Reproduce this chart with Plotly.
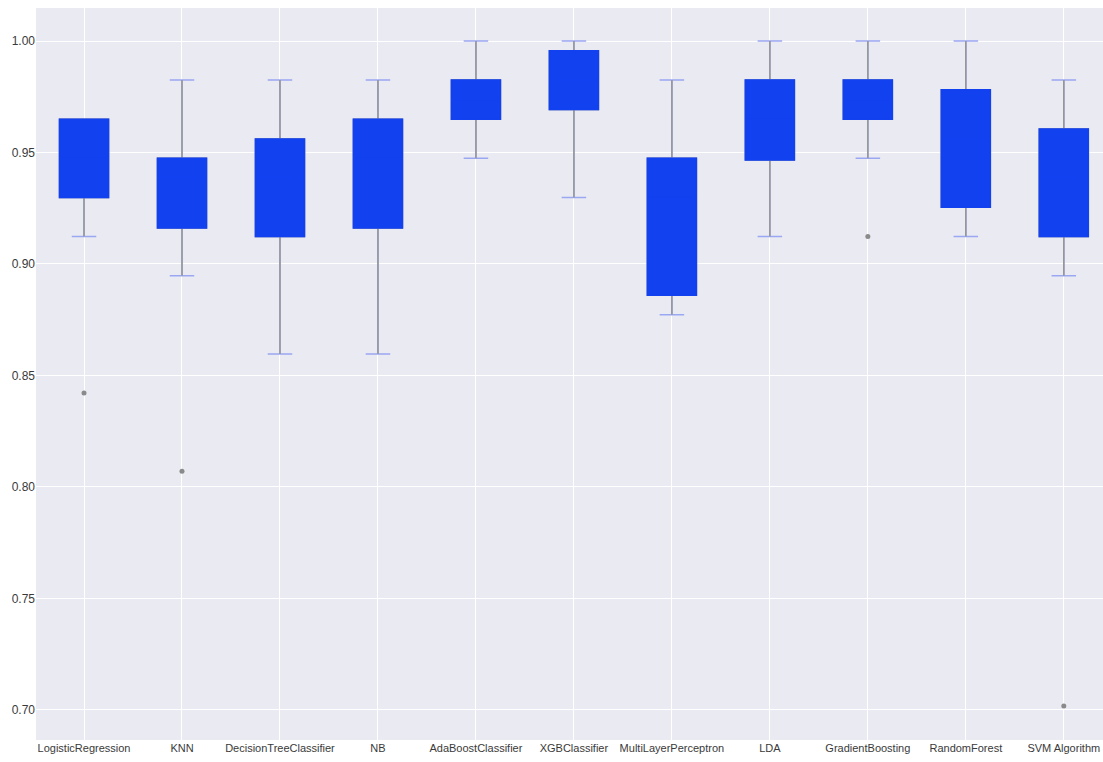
import plotly.graph_objects as go

models = ["LogisticRegression", "KNN", "DecisionTreeClassifier", "NB", "AdaBoostClassifier",
          "XGBClassifier", "MultiLayerPerceptron", "LDA", "GradientBoosting", "RandomForest",
          "SVM Algorithm"]
q1 = [0.9298, 0.9161, 0.9123, 0.9161, 0.9649, 0.9693, 0.8860, 0.9466, 0.9649, 0.9254, 0.9123]
median = [0.9474, 0.9386, 0.9386, 0.9474, 0.9737, 0.9825, 0.9298, 0.9649, 0.9737, 0.9561, 0.9386]
q3 = [0.9649, 0.9474, 0.9561, 0.9649, 0.9825, 0.9956, 0.9474, 0.9825, 0.9825, 0.9781, 0.9605]
lower_whisker = [0.9123, 0.8947, 0.8596, 0.8596, 0.9474, 0.9298, 0.8772, 0.9123, 0.9474, 0.9123, 0.8947]
upper_whisker = [0.9649, 0.9825, 0.9825, 0.9825, 1.0, 1.0, 0.9825, 1.0, 1.0, 1.0, 0.9825]
outlier_models = ["LogisticRegression", "KNN", "GradientBoosting", "SVM Algorithm"]
outlier_values = [0.8421, 0.8070, 0.9123, 0.7018]

BLUE = "#1241F0"
CAP = "#9AA7F2"
WHISK = "#959595"

fig = go.Figure()
# caps (light blue)
fig.add_trace(go.Box(x=models, q1=q1, median=median, q3=q3, lowerfence=lower_whisker,
                     upperfence=upper_whisker, width=0.5, whiskerwidth=0.5,
                     line=dict(color=CAP, width=1.5), fillcolor=BLUE, showlegend=False,
                     hoverinfo="skip"))
# whisker stems (grey)
fig.add_trace(go.Box(x=models, q1=q1, median=median, q3=q3, lowerfence=lower_whisker,
                     upperfence=upper_whisker, width=0.5, whiskerwidth=0,
                     line=dict(color=WHISK, width=1.5), fillcolor=BLUE, showlegend=False,
                     hoverinfo="skip"))
# boxes (blue, median hidden)
fig.add_trace(go.Box(x=models, q1=q1, median=median, q3=q3, lowerfence=q1,
                     upperfence=q3, width=0.5, whiskerwidth=0,
                     line=dict(color=BLUE, width=1.5), fillcolor=BLUE, showlegend=False))
# outliers
fig.add_trace(go.Scatter(x=outlier_models, y=outlier_values, mode="markers",
                         marker=dict(color="#8A8A8A", size=5), showlegend=False))

fig.update_layout(
    width=1103, height=762,
    margin=dict(l=36, r=0, t=8, b=22),
    paper_bgcolor="white",
    plot_bgcolor="#EAEAF2",
    boxmode="overlay",
    font=dict(family="Liberation Sans Narrow, Arial Narrow, Liberation Sans, Arial", size=11, color="#3A3A3A"),
)
fig.update_xaxes(type="category", categoryorder="array", categoryarray=models,
                 range=[-0.49, 10.4], showgrid=True, gridcolor="white", gridwidth=1,
                 zeroline=False, ticks="", showline=False)
fig.update_yaxes(range=[0.6865, 1.0148], tickvals=[0.70, 0.75, 0.80, 0.85, 0.90, 0.95, 1.00],
                 tickformat=".2f", showgrid=True, gridcolor="white", gridwidth=1,
                 zeroline=False, ticks="", showline=False, tickfont=dict(size=12))

fig.write_html("out.html")
